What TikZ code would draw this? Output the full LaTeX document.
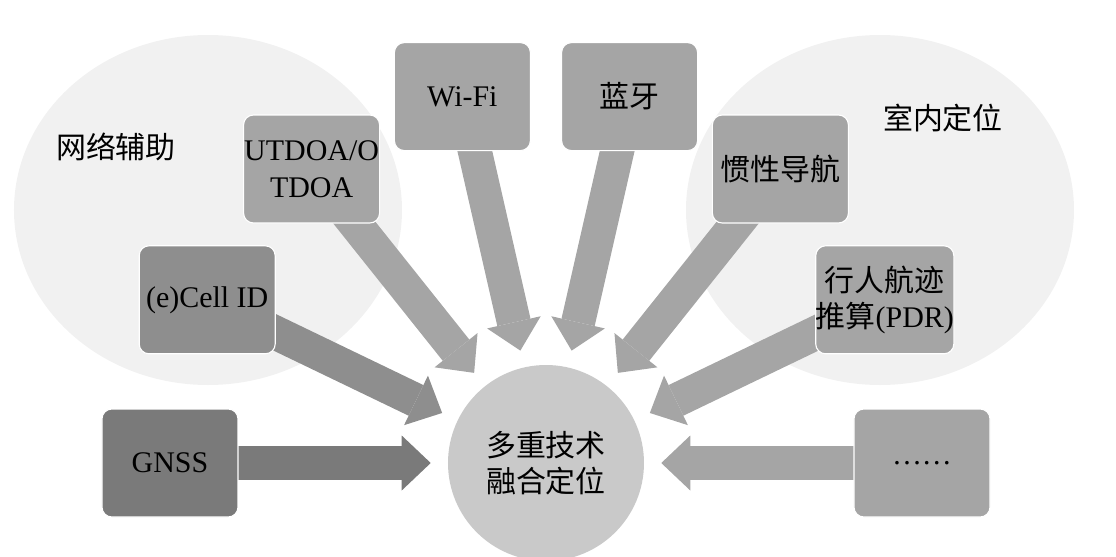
\documentclass[tikz,border=0pt]{standalone}
\usepackage{fontspec}
\setmainfont{Liberation Serif}
\newfontfamily\cjk{Noto Sans CJK SC}
\usepackage{tikz}
\usetikzlibrary{positioning,arrows.meta,shapes.geometric,backgrounds}
\definecolor{fondo}{HTML}{F1F1F1}
\definecolor{gris}{HTML}{A5A5A5}
\definecolor{grismed}{HTML}{8E8E8E}
\definecolor{grisosc}{HTML}{7A7A7A}
\definecolor{nucleo}{HTML}{C9C9C9}
\newcommand{\letra}{\fontsize{21.3}{26}\selectfont}
\tikzset{
  caja/.style={draw=white,line width=0.8pt,rounded corners=7pt,fill=#1,minimum width=3.4cm,minimum height=2.7cm,align=center,inner sep=0pt,font=\letra},
  caja/.default=gris,
  capa/.style={ellipse,fill=fondo,draw=none,minimum width=9.7cm,minimum height=8.75cm},
  flecha/.style={line width=0.85cm,color=#1,-{Triangle[width=1.375cm,length=0.725cm,line width=0pt]},shorten >=0.425cm},
  etiqueta/.style={font=\letra},
}

\begin{document}
\begin{tikzpicture}
  \useasboundingbox (-13.65,-2.325) rectangle (14.25,11.575);
  \begin{scope}[on background layer]
    \node[capa] (z1) at (-8.45,6.325) {};
    \node[capa] (z2) at (8.35,6.325) {};
  \end{scope}
  \node[etiqueta] (l1) at (-10.75,7.9) {\cjk 网络辅助};
  \node[etiqueta] (l2) at (9.925,8.625) {\cjk 室内定位};
  \node[circle,fill=nucleo,minimum size=4.9cm,inner sep=0pt,align=center,font=\letra] (c) at (0,0) {\cjk 多重技术\\\cjk 融合定位};
  \node[caja=grisosc] (m1) at (-9.4,0) {GNSS};
  \node[caja=grismed] (m2) at (-8.47,4.08) {(e)Cell ID};
  \node[caja] (m3) at (-5.86,7.35) {UTDOA/O\\TDOA};
  \node[caja] (m4) at (-2.09,9.16) {Wi-Fi};
  \node[caja] (m5) at (2.09,9.16) {\cjk 蓝牙};
  \node[caja] (m6) at (5.86,7.35) {\cjk 惯性导航};
  \node[caja] (m7) at (8.47,4.08) {{\cjk 行人航迹}\\{\cjk 推算}(PDR)};
  \node[caja] (m8) at (9.4,0) {……};
  \begin{scope}[on background layer]
    \foreach \n/\c in {m1/grisosc,m2/grismed,m3/gris,m4/gris,m5/gris,m6/gris,m7/gris,m8/gris}
      \draw[flecha=\c] (\n.center) -- (c);
  \end{scope}
\end{tikzpicture}
\end{document}
